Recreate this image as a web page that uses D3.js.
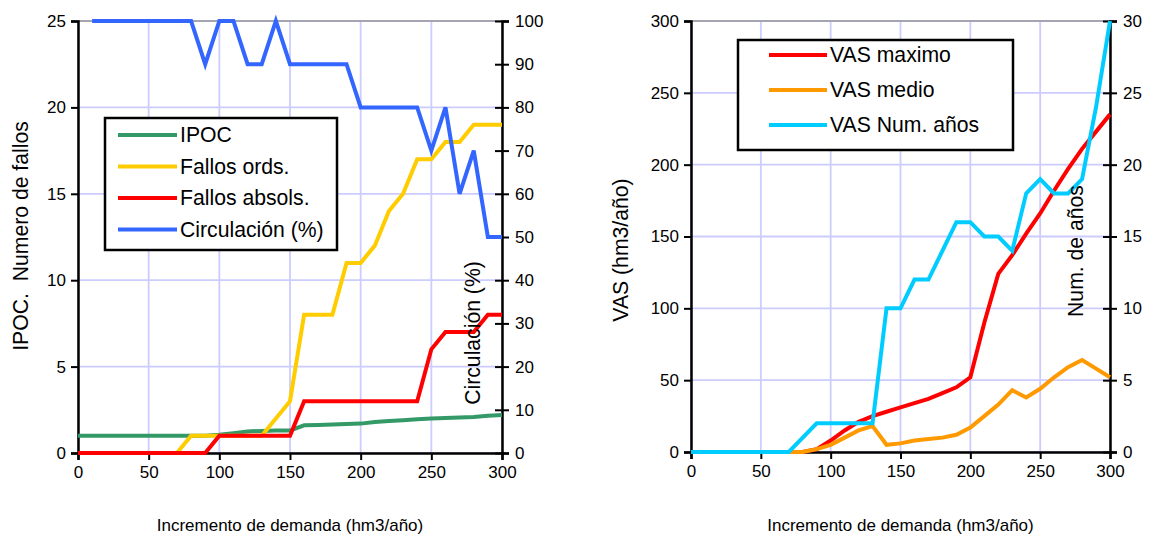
<!DOCTYPE html>
<html><head><meta charset="utf-8">
<script src="https://cdn.jsdelivr.net/npm/d3@7"></script>
<style>body{margin:0;background:#fff}svg{display:block;font-family:Arial,"Liberation Sans",sans-serif}text{white-space:pre}</style>
</head><body><svg id="c" width="1155" height="541"></svg>
<script>
// ---------- data ----------
const xsLeft = d3.range(0, 301, 10);
const ipoc = [1,1,1,1,1,1,1,1,1,1,1.05,1.15,1.25,1.28,1.3,1.3,1.6,1.62,1.65,1.68,1.7,1.8,1.85,1.9,1.95,2.0,2.02,2.05,2.08,2.15,2.2];
const fallosOrds = [0,0,0,0,0,0,0,0,1,1,1,1,1,1,2,3,8,8,8,11,11,12,14,15,17,17,18,18,19,19,19];
const fallosAbs = [0,0,0,0,0,0,0,0,0,0,1,1,1,1,1,1,3,3,3,3,3,3,3,3,3,6,7,7,7,8,8];
const xsCirc = d3.range(10, 301, 10);
const circulacion = [100,100,100,100,100,100,100,100,90,100,100,90,90,100,90,90,90,90,90,80,80,80,80,80,70,80,60,70,50,50];

const xsRight = d3.range(0, 301, 10);
const vasMax = [0,0,0,0,0,0,0,0,0,2,8,15,21,25,28,31,34,37,41,45,52,90,124,137,152,166,182,197,211,223,235];
const vasMedio = [0,0,0,0,0,0,0,0,0,2,5,10,15,18,5,6,8,9,10,12,17,25,33,43,38,44,52,59,64,58,52];
const vasNum = [0,0,0,0,0,0,0,0,1,2,2,2,2,2,10,10,12,12,14,16,16,15,15,14,18,19,18,18,19,24,30];

const xTicks = [0,50,100,150,200,250,300];
const leftTicksL = [0,5,10,15,20,25];
const rightTicksL = d3.range(0,101,10);
const leftTicksR = [0,50,100,150,200,250,300];
const rightTicksR = [0,5,10,15,20,25,30];

const legendLeft = ["IPOC","Fallos ords.","Fallos absols.","Circulación (%)"];
const legendRight = ["VAS maximo","VAS medio","VAS Num. años"];
const xTitle = "Incremento de demanda (hm3/año)";

// ---------- drawing ----------
const svg = d3.select("#c");
const GRID = "#ccccff", FONT = 17, TFONT = 21.2, LFONT = 21.2;

function panel(o){
  const g = svg.append("g");
  const x = d3.scaleLinear().domain([0,300]).range([o.x0,o.x1]);
  const yl = d3.scaleLinear().domain(o.ldom).range([o.y0,o.y1]);
  const yr = d3.scaleLinear().domain(o.rdom).range([o.y0,o.y1]);
  // grid
  g.append("g").selectAll("line").data(o.lt).join("line")
    .attr("x1",o.x0).attr("x2",o.x1).attr("y1",d=>yl(d)).attr("y2",d=>yl(d))
    .attr("stroke",GRID).attr("stroke-width",1.8);
  g.append("g").selectAll("line").data(xTicks).join("line")
    .attr("x1",d=>x(d)).attr("x2",d=>x(d)).attr("y1",o.y0).attr("y2",o.y1)
    .attr("stroke",GRID).attr("stroke-width",1.8);
  g.append("line").attr("x1",o.x0).attr("x2",o.x1).attr("y1",o.y1).attr("y2",o.y1)
    .attr("stroke","#999").attr("stroke-width",1.5);
  // axes
  const ax = g.append("g").attr("transform",`translate(0,${o.y0})`)
    .call(d3.axisBottom(x).tickValues(xTicks).tickSize(7).tickPadding(6));
  const al = g.append("g").attr("transform",`translate(${o.x0},0)`)
    .call(d3.axisLeft(yl).tickValues(o.lt).tickSize(7).tickPadding(5));
  const ar = g.append("g").attr("transform",`translate(${o.x1},0)`)
    .call(d3.axisRight(yr).tickValues(o.rt).tickSize(7).tickPadding(6));
  ar.selectAll(".tick line").attr("x1",-7);
  [ax,al,ar].forEach(a=>{
    a.select(".domain").attr("stroke","#000").attr("stroke-width",2.5);
    a.selectAll(".tick line").attr("stroke","#000").attr("stroke-width",2);
    a.selectAll("text").attr("font-size",FONT).attr("fill","#000").attr("font-family","Arial,'Liberation Sans',sans-serif");
  });
  // lines
  o.series.forEach(s=>{
    const yy = s.axis==="r"?yr:yl;
    g.append("path").datum(s.xs.map((d,i)=>[d,s.ys[i]]))
      .attr("fill","none").attr("stroke",s.color).attr("stroke-width",4)
      .attr("stroke-linejoin","miter")
      .attr("d",d3.line().x(d=>x(d[0])).y(d=>yy(d[1])));
  });
  // titles
  g.append("text").attr("x",(o.x0+o.x1)/2).attr("y",531).attr("text-anchor","middle")
    .attr("font-size",FONT).text(xTitle);
  g.append("text").attr("transform",`translate(${o.lTitleX},${o.lTitleY}) rotate(-90)`)
    .attr("text-anchor","middle").attr("font-size",TFONT).text(o.lTitle);
  g.append("text").attr("transform",`translate(${o.rTitleX},${o.rTitleY}) rotate(-90)`)
    .attr("text-anchor","middle").attr("font-size",TFONT).text(o.rTitle);
  // legend
  const L = o.legend;
  g.append("rect").attr("x",L.x).attr("y",L.y).attr("width",L.w).attr("height",L.h)
    .attr("fill","#fff").attr("stroke","#000").attr("stroke-width",2.5);
  o.series.forEach((s,i)=>{
    const cy = L.y + L.first + i*L.step;
    g.append("line").attr("x1",L.lx0).attr("x2",L.lx1).attr("y1",cy).attr("y2",cy)
      .attr("stroke",s.color).attr("stroke-width",4);
    g.append("text").attr("x",L.tx).attr("y",cy).attr("dy","0.35em")
      .attr("font-size",LFONT).text(L.labels[i]);
  });
}

panel({
  x0:78,x1:502,y0:453,y1:21,ldom:[0,25],rdom:[0,100],lt:leftTicksL,rt:rightTicksL,
  series:[
    {xs:xsLeft,ys:ipoc,color:"#339966",axis:"l"},
    {xs:xsLeft,ys:fallosOrds,color:"#ffcc00",axis:"l"},
    {xs:xsLeft,ys:fallosAbs,color:"#ff0000",axis:"l"},
    {xs:xsCirc,ys:circulacion,color:"#3366ff",axis:"r"}
  ],
  lTitle:"IPOC.  Numero de fallos", lTitleX:28, lTitleY:236,
  rTitle:"Circulación (%)", rTitleX:480, rTitleY:333,
  legend:{x:105,y:118,w:232,h:132,first:17,step:31.5,lx0:118,lx1:177,tx:180,labels:legendLeft}
});
panel({
  x0:691,x1:1110,y0:452,y1:21,ldom:[0,300],rdom:[0,30],lt:leftTicksR,rt:rightTicksR,
  series:[
    {xs:xsRight,ys:vasMax,color:"#ff0000",axis:"l"},
    {xs:xsRight,ys:vasMedio,color:"#ff9900",axis:"l"},
    {xs:xsRight,ys:vasNum,color:"#00ccff",axis:"r"}
  ],
  lTitle:"VAS (hm3/año)", lTitleX:628, lTitleY:250,
  rTitle:"Num. de años", rTitleX:1083, rTitleY:251,
  legend:{x:738,y:40,w:275,h:110,first:15,step:35,lx0:769,lx1:827,tx:830,labels:legendRight}
});
</script></body></html>
